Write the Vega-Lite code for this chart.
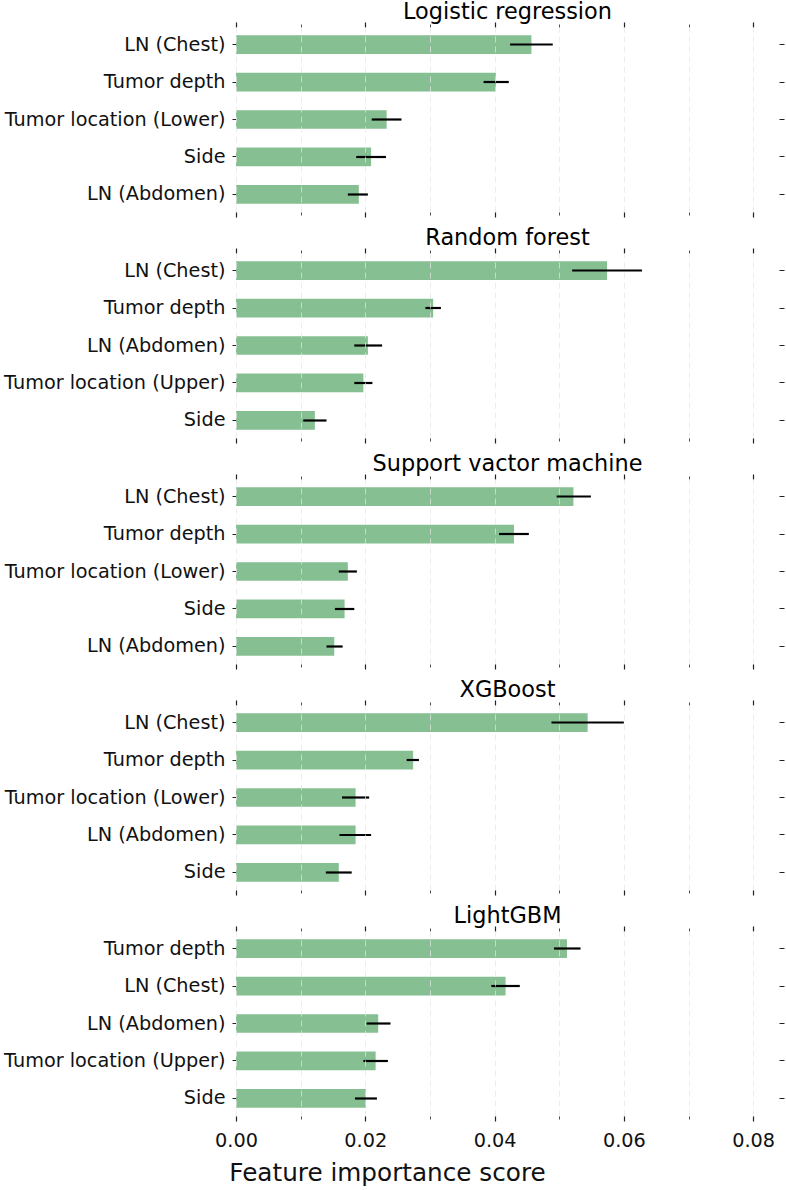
{
  "$schema": "https://vega.github.io/schema/vega-lite/v6.json",
  "padding": {"left": 3, "top": 1, "right": 0, "bottom": 1},
  "config": {
    "font": "DejaVu Sans",
    "view": {"stroke": null},
    "title": {"fontSize": 22.4, "fontWeight": "normal", "color": "#000000", "anchor": "middle", "frame": "group", "baseline": "alphabetic", "offset": -2},
    "axis": {"domain": false, "tickColor": "#222222", "labelColor": "#111111", "labelFont": "DejaVu Sans"}
  },
  "data": {"values": [
    {"model": "Logistic regression", "feature": "LN (Chest)", "rank": 1, "value": 0.0457, "lo": 0.0424, "hi": 0.0490},
    {"model": "Logistic regression", "feature": "Tumor depth", "rank": 2, "value": 0.0402, "lo": 0.0383, "hi": 0.0422},
    {"model": "Logistic regression", "feature": "Tumor location (Lower)", "rank": 3, "value": 0.0233, "lo": 0.0210, "hi": 0.0256},
    {"model": "Logistic regression", "feature": "Side", "rank": 4, "value": 0.0209, "lo": 0.0186, "hi": 0.0232},
    {"model": "Logistic regression", "feature": "LN (Abdomen)", "rank": 5, "value": 0.0190, "lo": 0.0173, "hi": 0.0204},
    {"model": "Random forest", "feature": "LN (Chest)", "rank": 1, "value": 0.0574, "lo": 0.0520, "hi": 0.0628},
    {"model": "Random forest", "feature": "Tumor depth", "rank": 2, "value": 0.0305, "lo": 0.0293, "hi": 0.0317},
    {"model": "Random forest", "feature": "LN (Abdomen)", "rank": 3, "value": 0.0204, "lo": 0.0183, "hi": 0.0226},
    {"model": "Random forest", "feature": "Tumor location (Upper)", "rank": 4, "value": 0.0197, "lo": 0.0183, "hi": 0.0211},
    {"model": "Random forest", "feature": "Side", "rank": 5, "value": 0.0122, "lo": 0.0104, "hi": 0.0140},
    {"model": "Support vactor machine", "feature": "LN (Chest)", "rank": 1, "value": 0.0522, "lo": 0.0496, "hi": 0.0549},
    {"model": "Support vactor machine", "feature": "Tumor depth", "rank": 2, "value": 0.0430, "lo": 0.0407, "hi": 0.0453},
    {"model": "Support vactor machine", "feature": "Tumor location (Lower)", "rank": 3, "value": 0.0173, "lo": 0.0159, "hi": 0.0187},
    {"model": "Support vactor machine", "feature": "Side", "rank": 4, "value": 0.0168, "lo": 0.0153, "hi": 0.0183},
    {"model": "Support vactor machine", "feature": "LN (Abdomen)", "rank": 5, "value": 0.0152, "lo": 0.0140, "hi": 0.0165},
    {"model": "XGBoost", "feature": "LN (Chest)", "rank": 1, "value": 0.0544, "lo": 0.0488, "hi": 0.0600},
    {"model": "XGBoost", "feature": "Tumor depth", "rank": 2, "value": 0.0274, "lo": 0.0264, "hi": 0.0283},
    {"model": "XGBoost", "feature": "Tumor location (Lower)", "rank": 3, "value": 0.0185, "lo": 0.0164, "hi": 0.0206},
    {"model": "XGBoost", "feature": "LN (Abdomen)", "rank": 4, "value": 0.0185, "lo": 0.0160, "hi": 0.0209},
    {"model": "XGBoost", "feature": "Side", "rank": 5, "value": 0.0159, "lo": 0.0139, "hi": 0.0179},
    {"model": "LightGBM", "feature": "Tumor depth", "rank": 1, "value": 0.0512, "lo": 0.0492, "hi": 0.0533},
    {"model": "LightGBM", "feature": "LN (Chest)", "rank": 2, "value": 0.0417, "lo": 0.0395, "hi": 0.0439},
    {"model": "LightGBM", "feature": "LN (Abdomen)", "rank": 3, "value": 0.0220, "lo": 0.0202, "hi": 0.0239},
    {"model": "LightGBM", "feature": "Tumor location (Upper)", "rank": 4, "value": 0.0216, "lo": 0.0197, "hi": 0.0235},
    {"model": "LightGBM", "feature": "Side", "rank": 5, "value": 0.0201, "lo": 0.0184, "hi": 0.0218}
  ]},
  "bounds": "flush",
  "spacing": 41,
  "resolve": {"scale": {"y": "independent"}},
  "vconcat": [
    {
      "title": "Logistic regression",
      "width": 543, "height": 185,
      "transform": [{"filter": {"field": "model", "equal": "Logistic regression"}}],
      "resolve": {"axis": {"x": "independent", "y": "independent"}},
      "layer": [
        {"mark": {"type": "bar", "color": "#86bf91"},
         "encoding": {
           "y": {"field": "feature", "type": "nominal", "sort": {"field": "rank", "op": "min"}, "scale": {"paddingInner": 0.5, "paddingOuter": 0.2167},
                 "axis": {"orient": "left", "title": null, "tickSize": 4, "labelFontSize": 19.25, "labelPadding": 7, "labelLimit": 0}},
           "x": {"field": "value", "type": "quantitative", "scale": {"domain": [0, 0.084], "nice": false},
                 "axis": {"orient": "bottom", "values": [0, 0.01, 0.02, 0.03, 0.04, 0.05, 0.06, 0.07, 0.08], "labels": false, "title": null, "zindex": 1,
                          "grid": true, "gridColor": "#e6e6e6", "gridOpacity": 0.7, "gridDash": [6, 4],
                          "tickSize": {"condition": {"test": "round(datum.value*100) % 2 === 0", "value": 5}, "value": 3},
                          "tickWidth": {"condition": {"test": "round(datum.value*100) % 2 === 0", "value": 1.2}, "value": 0.8}}}
         }},
        {"mark": {"type": "rule", "color": "#000000", "strokeWidth": 2.2},
         "encoding": {
           "y": {"field": "feature", "type": "nominal", "sort": {"field": "rank", "op": "min"},
                 "axis": {"orient": "right", "title": null, "labels": false, "tickSize": 5}},
           "x": {"field": "lo", "type": "quantitative",
                 "axis": {"orient": "top", "values": [0, 0.01, 0.02, 0.03, 0.04, 0.05, 0.06, 0.07, 0.08], "labels": false, "title": null, "grid": false,
                          "tickSize": {"condition": {"test": "round(datum.value*100) % 2 === 0", "value": 5}, "value": 3},
                          "tickWidth": {"condition": {"test": "round(datum.value*100) % 2 === 0", "value": 1.2}, "value": 0.8}}},
           "x2": {"field": "hi"}
         }}
      ]
    },
    {
      "title": "Random forest",
      "width": 543, "height": 185,
      "transform": [{"filter": {"field": "model", "equal": "Random forest"}}],
      "resolve": {"axis": {"x": "independent", "y": "independent"}},
      "layer": [
        {"mark": {"type": "bar", "color": "#86bf91"},
         "encoding": {
           "y": {"field": "feature", "type": "nominal", "sort": {"field": "rank", "op": "min"}, "scale": {"paddingInner": 0.5, "paddingOuter": 0.2167},
                 "axis": {"orient": "left", "title": null, "tickSize": 4, "labelFontSize": 19.25, "labelPadding": 7, "labelLimit": 0}},
           "x": {"field": "value", "type": "quantitative", "scale": {"domain": [0, 0.084], "nice": false},
                 "axis": {"orient": "bottom", "values": [0, 0.01, 0.02, 0.03, 0.04, 0.05, 0.06, 0.07, 0.08], "labels": false, "title": null, "zindex": 1,
                          "grid": true, "gridColor": "#e6e6e6", "gridOpacity": 0.7, "gridDash": [6, 4],
                          "tickSize": {"condition": {"test": "round(datum.value*100) % 2 === 0", "value": 5}, "value": 3},
                          "tickWidth": {"condition": {"test": "round(datum.value*100) % 2 === 0", "value": 1.2}, "value": 0.8}}}
         }},
        {"mark": {"type": "rule", "color": "#000000", "strokeWidth": 2.2},
         "encoding": {
           "y": {"field": "feature", "type": "nominal", "sort": {"field": "rank", "op": "min"},
                 "axis": {"orient": "right", "title": null, "labels": false, "tickSize": 5}},
           "x": {"field": "lo", "type": "quantitative",
                 "axis": {"orient": "top", "values": [0, 0.01, 0.02, 0.03, 0.04, 0.05, 0.06, 0.07, 0.08], "labels": false, "title": null, "grid": false,
                          "tickSize": {"condition": {"test": "round(datum.value*100) % 2 === 0", "value": 5}, "value": 3},
                          "tickWidth": {"condition": {"test": "round(datum.value*100) % 2 === 0", "value": 1.2}, "value": 0.8}}},
           "x2": {"field": "hi"}
         }}
      ]
    },
    {
      "title": "Support vactor machine",
      "width": 543, "height": 185,
      "transform": [{"filter": {"field": "model", "equal": "Support vactor machine"}}],
      "resolve": {"axis": {"x": "independent", "y": "independent"}},
      "layer": [
        {"mark": {"type": "bar", "color": "#86bf91"},
         "encoding": {
           "y": {"field": "feature", "type": "nominal", "sort": {"field": "rank", "op": "min"}, "scale": {"paddingInner": 0.5, "paddingOuter": 0.2167},
                 "axis": {"orient": "left", "title": null, "tickSize": 4, "labelFontSize": 19.25, "labelPadding": 7, "labelLimit": 0}},
           "x": {"field": "value", "type": "quantitative", "scale": {"domain": [0, 0.084], "nice": false},
                 "axis": {"orient": "bottom", "values": [0, 0.01, 0.02, 0.03, 0.04, 0.05, 0.06, 0.07, 0.08], "labels": false, "title": null, "zindex": 1,
                          "grid": true, "gridColor": "#e6e6e6", "gridOpacity": 0.7, "gridDash": [6, 4],
                          "tickSize": {"condition": {"test": "round(datum.value*100) % 2 === 0", "value": 5}, "value": 3},
                          "tickWidth": {"condition": {"test": "round(datum.value*100) % 2 === 0", "value": 1.2}, "value": 0.8}}}
         }},
        {"mark": {"type": "rule", "color": "#000000", "strokeWidth": 2.2},
         "encoding": {
           "y": {"field": "feature", "type": "nominal", "sort": {"field": "rank", "op": "min"},
                 "axis": {"orient": "right", "title": null, "labels": false, "tickSize": 5}},
           "x": {"field": "lo", "type": "quantitative",
                 "axis": {"orient": "top", "values": [0, 0.01, 0.02, 0.03, 0.04, 0.05, 0.06, 0.07, 0.08], "labels": false, "title": null, "grid": false,
                          "tickSize": {"condition": {"test": "round(datum.value*100) % 2 === 0", "value": 5}, "value": 3},
                          "tickWidth": {"condition": {"test": "round(datum.value*100) % 2 === 0", "value": 1.2}, "value": 0.8}}},
           "x2": {"field": "hi"}
         }}
      ]
    },
    {
      "title": "XGBoost",
      "width": 543, "height": 185,
      "transform": [{"filter": {"field": "model", "equal": "XGBoost"}}],
      "resolve": {"axis": {"x": "independent", "y": "independent"}},
      "layer": [
        {"mark": {"type": "bar", "color": "#86bf91"},
         "encoding": {
           "y": {"field": "feature", "type": "nominal", "sort": {"field": "rank", "op": "min"}, "scale": {"paddingInner": 0.5, "paddingOuter": 0.2167},
                 "axis": {"orient": "left", "title": null, "tickSize": 4, "labelFontSize": 19.25, "labelPadding": 7, "labelLimit": 0}},
           "x": {"field": "value", "type": "quantitative", "scale": {"domain": [0, 0.084], "nice": false},
                 "axis": {"orient": "bottom", "values": [0, 0.01, 0.02, 0.03, 0.04, 0.05, 0.06, 0.07, 0.08], "labels": false, "title": null, "zindex": 1,
                          "grid": true, "gridColor": "#e6e6e6", "gridOpacity": 0.7, "gridDash": [6, 4],
                          "tickSize": {"condition": {"test": "round(datum.value*100) % 2 === 0", "value": 5}, "value": 3},
                          "tickWidth": {"condition": {"test": "round(datum.value*100) % 2 === 0", "value": 1.2}, "value": 0.8}}}
         }},
        {"mark": {"type": "rule", "color": "#000000", "strokeWidth": 2.2},
         "encoding": {
           "y": {"field": "feature", "type": "nominal", "sort": {"field": "rank", "op": "min"},
                 "axis": {"orient": "right", "title": null, "labels": false, "tickSize": 5}},
           "x": {"field": "lo", "type": "quantitative",
                 "axis": {"orient": "top", "values": [0, 0.01, 0.02, 0.03, 0.04, 0.05, 0.06, 0.07, 0.08], "labels": false, "title": null, "grid": false,
                          "tickSize": {"condition": {"test": "round(datum.value*100) % 2 === 0", "value": 5}, "value": 3},
                          "tickWidth": {"condition": {"test": "round(datum.value*100) % 2 === 0", "value": 1.2}, "value": 0.8}}},
           "x2": {"field": "hi"}
         }}
      ]
    },
    {
      "title": "LightGBM",
      "width": 543, "height": 185,
      "transform": [{"filter": {"field": "model", "equal": "LightGBM"}}],
      "resolve": {"axis": {"x": "independent", "y": "independent"}},
      "layer": [
        {"mark": {"type": "bar", "color": "#86bf91"},
         "encoding": {
           "y": {"field": "feature", "type": "nominal", "sort": {"field": "rank", "op": "min"}, "scale": {"paddingInner": 0.5, "paddingOuter": 0.2167},
                 "axis": {"orient": "left", "title": null, "tickSize": 4, "labelFontSize": 19.25, "labelPadding": 7, "labelLimit": 0}},
           "x": {"field": "value", "type": "quantitative", "scale": {"domain": [0, 0.084], "nice": false},
                 "axis": {"orient": "bottom", "values": [0, 0.01, 0.02, 0.03, 0.04, 0.05, 0.06, 0.07, 0.08], "zindex": 1,
                          "labelExpr": "round(datum.value*100) % 2 === 0 ? format(datum.value, '.2f') : ''",
                          "labelFontSize": 19.25, "labelPadding": 10, "labelOverlap": false, "labelFlush": false,
                          "title": "Feature importance score", "titleFontSize": 24.7, "titleFontWeight": "normal", "titleColor": "#111111",
                          "titleX": 151, "titleY": 64, "titleBaseline": "alphabetic", "titleAnchor": "middle", "titleAlign": "center",
                          "grid": true, "gridColor": "#e6e6e6", "gridOpacity": 0.7, "gridDash": [6, 4],
                          "tickSize": {"condition": {"test": "round(datum.value*100) % 2 === 0", "value": 5}, "value": 3},
                          "tickWidth": {"condition": {"test": "round(datum.value*100) % 2 === 0", "value": 1.2}, "value": 0.8}}}
         }},
        {"mark": {"type": "rule", "color": "#000000", "strokeWidth": 2.2},
         "encoding": {
           "y": {"field": "feature", "type": "nominal", "sort": {"field": "rank", "op": "min"},
                 "axis": {"orient": "right", "title": null, "labels": false, "tickSize": 5}},
           "x": {"field": "lo", "type": "quantitative",
                 "axis": {"orient": "top", "values": [0, 0.01, 0.02, 0.03, 0.04, 0.05, 0.06, 0.07, 0.08], "labels": false, "title": null, "grid": false,
                          "tickSize": {"condition": {"test": "round(datum.value*100) % 2 === 0", "value": 5}, "value": 3},
                          "tickWidth": {"condition": {"test": "round(datum.value*100) % 2 === 0", "value": 1.2}, "value": 0.8}}},
           "x2": {"field": "hi"}
         }}
      ]
    }
  ]
}
